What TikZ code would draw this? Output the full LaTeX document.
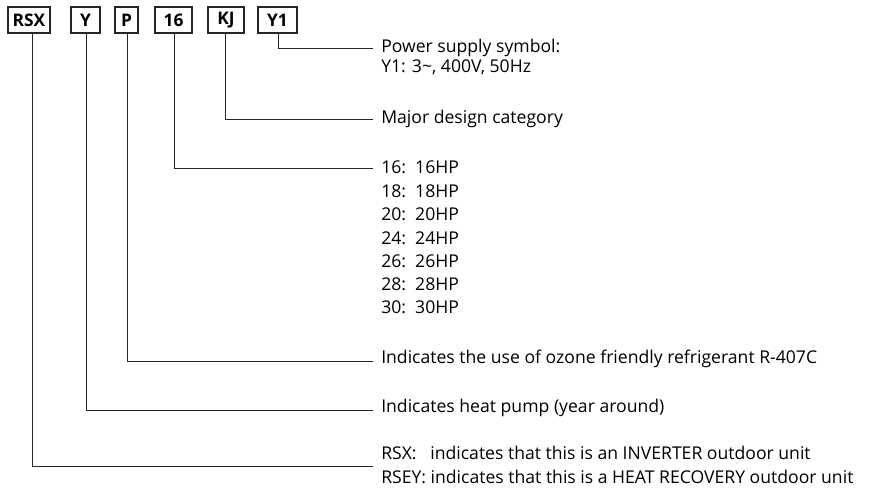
\documentclass[tikz,border=0pt]{standalone}
\usepackage{fontspec}
\setmainfont{Open Sans}
\begin{document}
\begin{tikzpicture}[x=0.75pt,y=-0.75pt,
  codebox/.style={draw=black!85,line width=0.8pt,minimum height=19.5pt,inner sep=0pt,font=\bfseries\fontsize{13}{15}\selectfont},
  desc/.style={anchor=west,inner xsep=6pt,inner ysep=0pt,text height=0.714em,text depth=0pt,font=\fontsize{13.2}{15}\selectfont},
  conn/.style={draw=black!85,line width=0.75pt}]
\useasboundingbox (0,0) rectangle (881,491);
% code boxes
\node[codebox,minimum width=31.5pt] (rsx) at (29,20) {RSX};
\node[codebox,minimum width=21.75pt] (y) at (85.5,20) {Y};
\node[codebox,minimum width=17.25pt] (p) at (126.5,20) {P};
\node[codebox,minimum width=27.75pt] (hp) at (173.5,20) {16};
\node[codebox,minimum width=27pt] (kj) at (226,20) {KJ};
\node[codebox,minimum width=29.25pt] (y1) at (277.5,20) {Y1};
% descriptions
\node[desc] (ps1) at (373,47.5) {Power supply symbol:};
\node[desc] (ps2) at (373,67.5) {Y1: 3{\char`\~}, 400V, 50Hz};
\node[desc] (mdc) at (373,119) {Major design category};
\node[desc] (h16) at (373,169) {16:\ \ 16HP};
\node[desc] (h18) at (373,192.5) {18:\ \ 18HP};
\node[desc] (h20) at (373,216) {20:\ \ 20HP};
\node[desc] (h24) at (373,239.3) {24:\ \ 24HP};
\node[desc] (h26) at (373,262.5) {26:\ \ 26HP};
\node[desc] (h28) at (373,286) {28:\ \ 28HP};
\node[desc] (h30) at (373,308.5) {30:\ \ 30HP};
\node[desc] (ref) at (373,359) {Indicates the use of ozone friendly refrigerant R-407C};
\node[desc] (hpu) at (373,407.5) {Indicates heat pump (year around)};
\node[desc] (inv) at (373,455) {RSX:\ \ \ indicates that this is an INVERTER outdoor unit};
\node[desc] (hr) at (373,479) {RSEY:\ indicates that this is a HEAT RECOVERY outdoor unit};
% connectors
\draw[conn] (y1.south -| 278.5,0) |- ([yshift=-0.6pt]ps1.west);
\draw[conn] (kj.south -| 225.5,0) |- ([yshift=-0.75pt]mdc.west);
\draw[conn] (hp.south -| 174,0) |- ([yshift=0.6pt]h16.west);
\draw[conn] (p.south -| 127,0) |- ([yshift=-2pt]ref.west);
\draw[conn] (y.south -| 86,0) |- ([yshift=-1.9pt]hpu.west);
\draw[conn] (rsx.south -| 32,0) |- ([yshift=-8.25pt]inv.west);
\end{tikzpicture}
\end{document}
